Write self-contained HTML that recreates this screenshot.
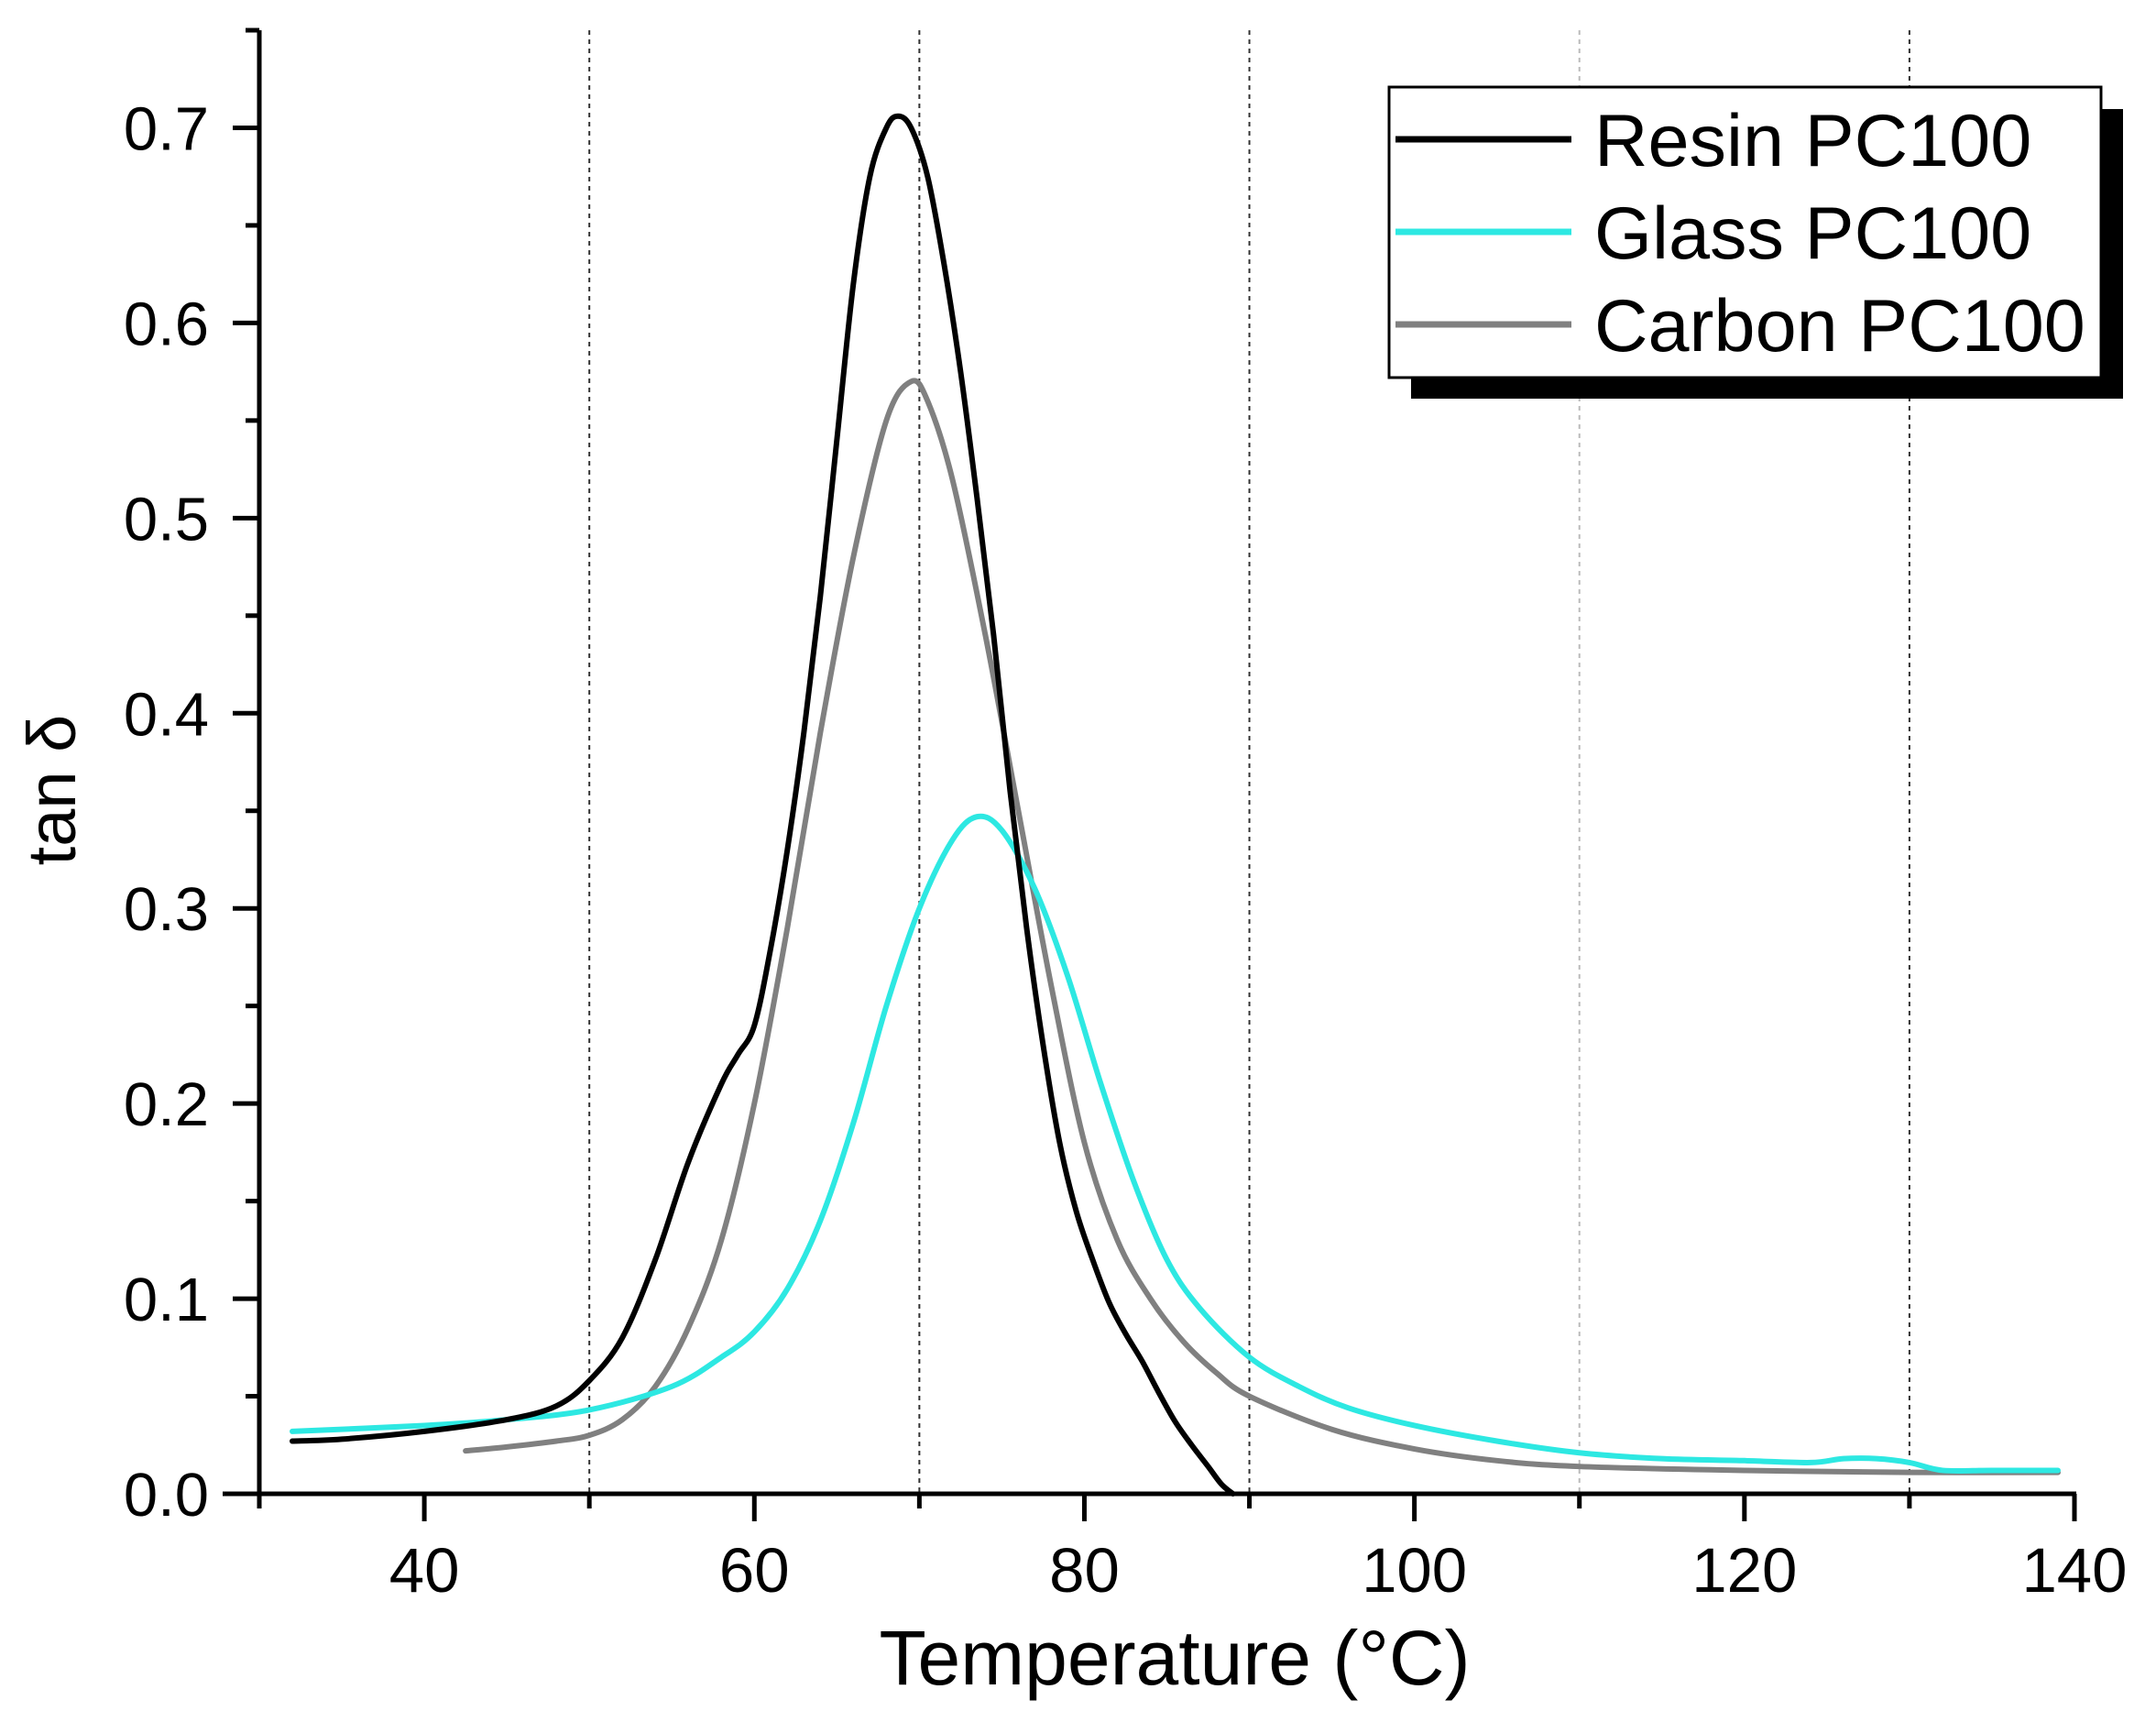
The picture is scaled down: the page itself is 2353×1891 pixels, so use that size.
<!DOCTYPE html>
<html><head><meta charset="utf-8"><style>
html,body{margin:0;padding:0;background:#fff;}
svg{display:block;font-family:"Liberation Sans",Arial,sans-serif;}
</style></head><body>
<svg id="chart" width="2353" height="1891" viewBox="0 0 2353 1891" xmlns="http://www.w3.org/2000/svg">
<g id="grid"></g>
<g id="series"></g>
<g id="axes"></g>
<text transform="translate(82,862) rotate(-90)" text-anchor="middle" font-size="74">tan δ</text>
<text x="1282" y="1838" text-anchor="middle" font-size="84">Temperature (°C)</text>
<g>
<rect x="1540" y="119" width="777" height="316" fill="#000"/>
<rect x="1516" y="95" width="777" height="317" fill="#fff" stroke="#000" stroke-width="3"/>
<g><line x1="1523" y1="152" x2="1715" y2="152" stroke="#000" stroke-width="7"/><text x="1740" y="181" font-size="81">Resin PC100</text></g>
<g><line x1="1523" y1="253" x2="1715" y2="253" stroke="#2de8e2" stroke-width="7"/><text x="1740" y="282" font-size="81">Glass PC100</text></g>
<g><line x1="1523" y1="354" x2="1715" y2="354" stroke="#808080" stroke-width="7"/><text x="1740" y="383" font-size="81">Carbon PC100</text></g>
</g>
</svg>
<script>
const xTicks=[40,60,80,100,120,140];
const yTicks=[0,0.1,0.2,0.3,0.4,0.5,0.6,0.7];
const yTickLabels=["0.0","0.1","0.2","0.3","0.4","0.5","0.6","0.7"];
const gridX=[50,70,90,110,130];
const resinT=[32,35,40,45,48,50,52,54,56,58,59,60,61,62,63,64,65,66,67,68,68.7,69.5,70.5,71.5,72.5,73.5,74.5,75.5,76.5,77.5,78.5,79.5,80.5,81.5,82.5,83.5,84.5,85.5,86.5,87.5,88.3,89];
const resinV=[0.027,0.028,0.032,0.038,0.045,0.058,0.08,0.12,0.17,0.21,0.225,0.24,0.28,0.33,0.39,0.46,0.54,0.62,0.675,0.70,0.706,0.70,0.675,0.63,0.575,0.51,0.44,0.36,0.29,0.23,0.18,0.145,0.12,0.098,0.082,0.068,0.052,0.037,0.025,0.014,0.005,0.0];
const glassT=[32,40,45,50,55,58,60,62,64,66,68,70,72,73.5,75,77,79,81,83,85,87,90,93,96,100,105,110,115,120,124,126,128,130,132,135,139];
const glassV=[0.032,0.035,0.038,0.043,0.055,0.07,0.083,0.105,0.14,0.19,0.25,0.30,0.335,0.347,0.34,0.31,0.265,0.21,0.16,0.12,0.095,0.07,0.055,0.044,0.035,0.027,0.021,0.018,0.017,0.016,0.018,0.018,0.016,0.012,0.012,0.012];
const carbonT=[42.5,45,48,50,52,54,56,58,60,62,64,66,68,69.5,70.5,72,74,76,78,80,82,84,86,88,90,95,100,105,110,120,130,139];
const carbonV=[0.022,0.024,0.027,0.03,0.038,0.055,0.085,0.13,0.2,0.29,0.39,0.48,0.55,0.57,0.56,0.52,0.44,0.35,0.26,0.18,0.13,0.1,0.078,0.062,0.05,0.033,0.023,0.017,0.014,0.012,0.011,0.011];

const X0=283,X1=2264,XMIN=30,XMAX=140,Y0=1630,Y1=33,YMIN=0,YMAX=0.75;
function sx(v){return X0+(v-XMIN)/(XMAX-XMIN)*(X1-X0);}
function sy(v){return Y0-(v-YMIN)/(YMAX-YMIN)*(Y0-Y1);}
const NS="http://www.w3.org/2000/svg";
function mk(tag,attrs,parent){const e=document.createElementNS(NS,tag);for(const k in attrs)e.setAttribute(k,attrs[k]);parent.appendChild(e);return e;}
const grid=document.getElementById('grid'),axes=document.getElementById('axes'),series=document.getElementById('series');
gridX.forEach(g=>{
  const l=mk('line',{x1:sx(g),x2:sx(g),y1:Y1,y2:Y0,stroke:g===110?'#bbb':'#333','stroke-width':2,'stroke-dasharray':'5,5'},grid);
  
  
});
function path(T,V,color,name){
  const p=T.map((t,i)=>[sx(t),sy(V[i])]);
  let d='M'+p[0][0]+','+p[0][1];
  for(let i=0;i<p.length-1;i++){
    const p0=p[Math.max(0,i-1)],p1=p[i],p2=p[i+1],p3=p[Math.min(p.length-1,i+2)];
    const c1=[p1[0]+(p2[0]-p0[0])/6,p1[1]+(p2[1]-p0[1])/6];
    const c2=[p2[0]-(p3[0]-p1[0])/6,p2[1]-(p3[1]-p1[1])/6];
    d+=' C'+c1[0]+','+c1[1]+' '+c2[0]+','+c2[1]+' '+p2[0]+','+p2[1];
  }
  const e=mk('path',{d:d,fill:'none',stroke:color,'stroke-width':6,'stroke-linejoin':'round','stroke-linecap':'round'},series);
  
  
}
path(carbonT,carbonV,'#808080','series-carbon-pc100');
path(glassT,glassV,'#2de8e2','series-glass-pc100');
path(resinT,resinV,'#000','series-resin-pc100');
const xa=mk('line',{x1:X0-40,x2:X1+2,y1:Y0,y2:Y0,stroke:'#000','stroke-width':5},axes);


const ya=mk('line',{x1:X0,x2:X0,y1:Y1,y2:Y0+16,stroke:'#000','stroke-width':5},axes);


for(let v=30;v<=140;v+=10){
  const major=xTicks.includes(v);
  const t=mk('line',{x1:sx(v),x2:sx(v),y1:Y0,y2:Y0+(major?30:16),stroke:'#000','stroke-width':5},axes);
  
  
}
xTicks.forEach(v=>{
  const t=mk('text',{x:sx(v),y:1737,'text-anchor':'middle','font-size':69},axes);
  t.textContent=String(v);
  
  
});
for(let i=0;i<=15;i++){
  const v=i*0.05;const major=i%2===0;
  const t=mk('line',{x1:X0-(major?29:15),x2:X0,y1:sy(v),y2:sy(v),stroke:'#000','stroke-width':5},axes);
  
  
}
yTicks.forEach((v,i)=>{
  const t=mk('text',{x:228,y:sy(v)+24,'text-anchor':'end','font-size':67},axes);
  t.textContent=yTickLabels[i];
  
  
});
</script>
</body></html>
